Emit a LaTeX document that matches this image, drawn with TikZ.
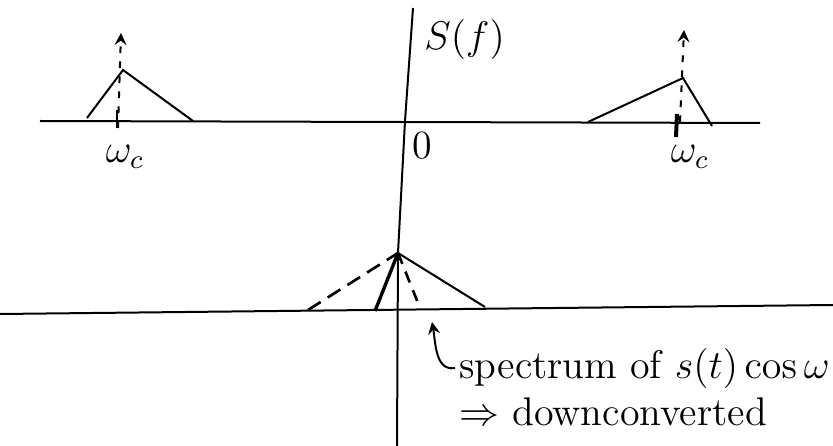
\documentclass[tikz,border=0pt]{standalone}

\begin{document}
\begin{tikzpicture}[x=0.3pt, y=-0.3pt, line width=0.6pt,
		pulse/.style={dash pattern=on 2pt off 2.5pt, -stealth},
		lbl/.style={font=\large, inner sep=1pt}]
	\useasboundingbox (0, 0) rectangle (833, 446);
	\clip (0, 0) rectangle (833, 446);

	% axes
	\draw (40, 121) -- (760, 123);
	\draw (0, 314) -- (833, 305);
	\draw (413, 8) -- (405, 121) -- (398, 253) -- (397, 446);

	% spectrum around -w_c
	\coordinate (lA) at (87, 118);
	\coordinate (lP) at (123, 70);
	\coordinate (lB) at (193, 121);
	\draw (lA) -- (lP) -- (lB);
	\coordinate (lT) at (118, 128);
	\coordinate (lH) at (121, 33);
	\draw[pulse] (lT) -- (lH);
	\draw (117, 110) -- (117, 128);

	% spectrum around +w_c
	\coordinate (rA) at (588, 122);
	\coordinate (rP) at (683, 78);
	\coordinate (rB) at (712, 126);
	\draw (rA) -- (rP) -- (rB);
	\coordinate (rT) at (680, 122);
	\coordinate (rH) at (684, 30);
	\draw[pulse] (rT) -- (rH);
	\draw[line width=1.2pt] (677, 114) -- (676, 137);

	% downconverted spectrum
	\coordinate (bP) at (398, 253);
	\coordinate (bD1) at (308, 310);
	\coordinate (bS1) at (375, 311);
	\coordinate (bD2) at (420, 308);
	\coordinate (bS2) at (485, 307);
	\draw[dash pattern=on 4.5pt off 2.5pt, line width=0.8pt] (bD1) -- (bP);
	\draw[dash pattern=on 3.5pt off 2.5pt, line width=0.8pt] (bP) -- (bD2);
	\draw[line width=1pt] (bS1) -- (bP);
	\draw (bP) -- (bS2);

	\node[lbl, anchor=west] (Sf) at (420, 40) {$S(f)$};
	\node[lbl] (zero) at (422, 146) {$0$};
	\node[lbl] (wcL) at (125, 157) {$\omega_c$};
	\node[lbl] (wcR) at (690, 157) {$\omega_c$};

	\node[lbl, anchor=base west] (spec) at (455, 378) {spectrum of $s(t)\cos\omega$};
	\node[lbl, anchor=base west] (down) at (455, 426) {$\Rightarrow$ downconverted};

	\coordinate (tip) at (432, 322);
	\draw[-stealth] (spec.west) to[out=190, in=-80] (tip);
\end{tikzpicture}
\end{document}
